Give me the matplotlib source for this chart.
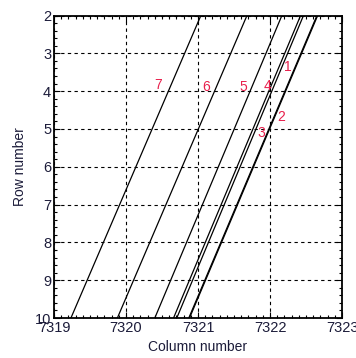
import matplotlib.pyplot as plt
from matplotlib.ticker import MultipleLocator

# line ends (column number at row 2 and at row 10)
row_ends = [2, 10]
line_names = ['1', '2', '3', '4', '5', '6', '7']
col_top = [7322.652, 7322.662, 7322.465, 7322.425, 7322.165, 7321.68, 7321.04]
col_bottom = [7320.872, 7320.882, 7320.705, 7320.66, 7320.40, 7319.88, 7319.235]

# where the red numbers sit
label_col = [7322.25, 7322.16, 7321.88, 7321.97, 7321.63, 7321.11, 7320.45]
label_row = [3.35, 4.68, 5.12, 3.87, 3.90, 3.90, 3.84]

plt.rcParams['font.family'] = ['Liberation Sans', 'DejaVu Sans']
txt_color = '#1c1c3a'

fig = plt.figure(figsize=(3.56, 3.58), dpi=100)
ax = fig.add_axes([0.1517, 0.1117, 0.809, 0.845])

for name, c0, c1 in zip(line_names, col_top, col_bottom):
    ax.plot([c0, c1], row_ends, color='black', lw=0.9)

for name, x, y in zip(line_names, label_col, label_row):
    ax.text(x, y, name, color='#e8204c', fontsize=10, ha='center', va='center')

ax.set_xlim(7319, 7323)
ax.set_ylim(10, 2)
ax.xaxis.set_major_locator(MultipleLocator(1))
ax.xaxis.set_minor_locator(MultipleLocator(0.1))
ax.yaxis.set_major_locator(MultipleLocator(1))
ax.yaxis.set_minor_locator(MultipleLocator(0.2))
ax.xaxis.set_major_formatter(lambda v, p: '%d' % v)

ax.grid(True, which='major', color='black', ls=(0, (3, 3)), lw=0.8)
ax.tick_params(which='both', direction='in', top=True, right=True,
               colors='black', labelcolor=txt_color, labelsize=10.5)
ax.tick_params(which='major', length=4, width=0.8, pad=2)
ax.tick_params(which='minor', length=2.5, width=0.8)
for s in ax.spines.values():
    s.set_linewidth(1.3)

ax.set_xlabel('Column number', fontsize=10, color=txt_color, labelpad=4)
ax.set_ylabel('Row number', fontsize=10, color=txt_color, labelpad=6)

fig.savefig('out.png', dpi=100)
